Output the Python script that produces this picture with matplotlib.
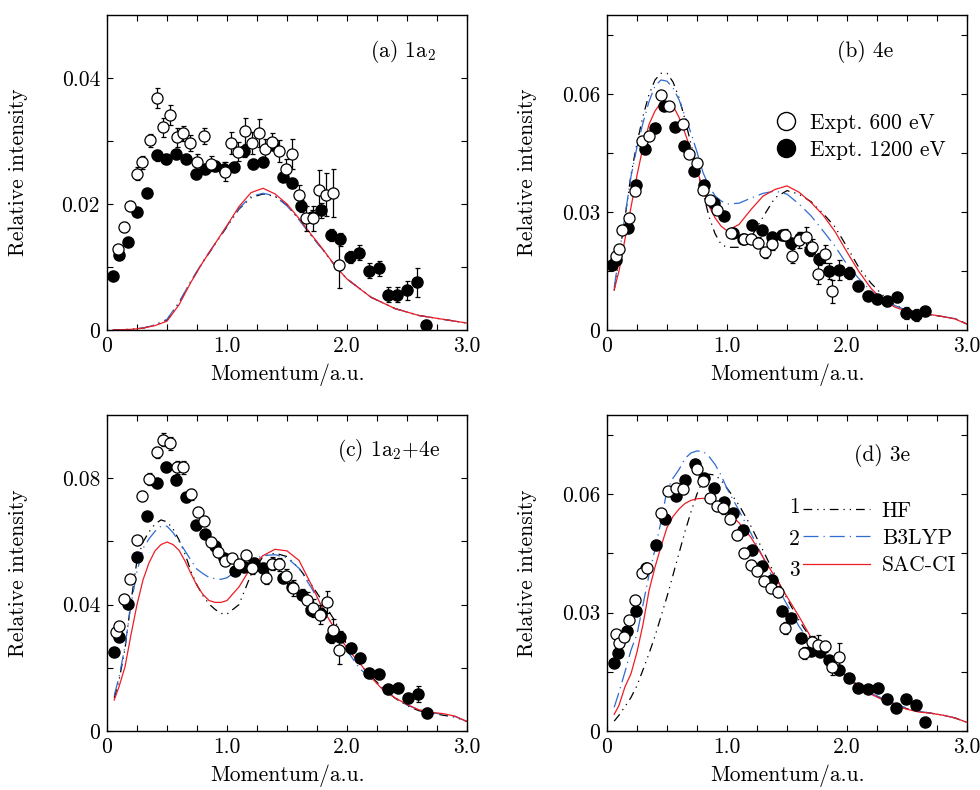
import numpy as np
import matplotlib
matplotlib.use("Agg")
import matplotlib.pyplot as plt
from matplotlib.lines import Line2D

plt.rcParams['font.family'] = 'serif'
plt.rcParams['font.serif'] = ['cmr10', 'DejaVu Serif']
plt.rcParams['mathtext.fontset'] = 'cm'
plt.rcParams['axes.unicode_minus'] = False

# ---------------- data ----------------
# Panel (a) 1a2
a_open_x = [0.092,0.142,0.194,0.247,0.294,0.356,0.417,0.467,0.525,0.581,0.636,0.694,0.753,0.808,0.867,0.983,1.036,1.094,1.15,1.206,1.264,1.319,1.375,1.433,1.492,1.544,1.603,1.661,1.717,1.764,1.825,1.883,1.936]
a_open_y = [0.0129,0.0164,0.0197,0.0248,0.0266,0.0301,0.0368,0.0322,0.0341,0.0306,0.0312,0.0297,0.0267,0.0308,0.0264,0.0251,0.0297,0.0283,0.0316,0.0297,0.0313,0.0287,0.0299,0.0284,0.0256,0.0279,0.0215,0.0177,0.0177,0.0223,0.0215,0.0218,0.0103]
a_open_e = [0.0006,0.0008,0.0008,0.0010,0.0010,0.0010,0.0016,0.0015,0.0016,0.0015,0.0012,0.0013,0.0012,0.0013,0.0012,0.0015,0.0017,0.0015,0.0020,0.0018,0.0022,0.0016,0.0014,0.0018,0.0015,0.0024,0.0015,0.0020,0.0020,0.0031,0.0034,0.0038,0.0037]
a_fill_x = [0.05,0.1,0.178,0.253,0.331,0.414,0.492,0.578,0.656,0.739,0.814,0.897,0.975,1.061,1.139,1.219,1.303,1.383,1.464,1.542,1.619,1.706,1.781,1.864,1.939,2.028,2.103,2.181,2.264,2.339,2.419,2.503,2.583,2.661]
a_fill_y = [0.0086,0.0119,0.0140,0.0187,0.0217,0.0277,0.0271,0.0279,0.0271,0.0248,0.0256,0.0260,0.0256,0.0259,0.0284,0.0264,0.0266,0.0293,0.0243,0.0234,0.0197,0.0180,0.0190,0.0151,0.0144,0.0116,0.0123,0.0094,0.0098,0.0056,0.0056,0.0063,0.0076,0.0008]
a_fill_e = [0.0004,0.0005,0.0005,0.0006,0.0006,0.0008,0.0008,0.0008,0.0008,0.0008,0.0008,0.0008,0.0010,0.0008,0.0010,0.0008,0.0008,0.0008,0.0008,0.0008,0.0010,0.0010,0.0012,0.0010,0.0010,0.0010,0.0012,0.0012,0.0012,0.0012,0.0012,0.0015,0.0023,0.0008]
a_th_x = [0.05,0.2,0.3,0.4,0.5,0.6,0.7,0.8,0.9,1.0,1.1,1.2,1.3,1.4,1.5,1.6,1.7,1.8,1.9,2.0,2.2,2.4,2.6,2.8,3.0]
a_hf   = [0.0,0.0001,0.0003,0.0008,0.0016,0.0043,0.0077,0.0108,0.0136,0.0164,0.0192,0.0210,0.0216,0.0212,0.0198,0.0176,0.0151,0.0127,0.0102,0.0081,0.0052,0.0034,0.0023,0.0017,0.0011]
a_b3   = [0.0,0.0001,0.0003,0.0008,0.0017,0.0044,0.0078,0.0109,0.0137,0.0165,0.0193,0.0212,0.0217,0.0213,0.0197,0.0175,0.0150,0.0127,0.0102,0.0081,0.0052,0.0034,0.0023,0.0017,0.0011]
a_sac  = [0.0,0.0001,0.0003,0.0007,0.0014,0.0040,0.0076,0.0108,0.0137,0.0166,0.0196,0.0218,0.0225,0.0216,0.0200,0.0177,0.0152,0.0128,0.0102,0.0081,0.0052,0.0034,0.0023,0.0017,0.0011]

# common theory grid for panels (b)-(d)
th_x = [0.06,0.1,0.15,0.2,0.25,0.3,0.35,0.4,0.45,0.5,0.55,0.6,0.65,0.7,0.75,0.8,0.85,0.9,0.95,1.0,1.1,1.2,1.3,1.4,1.5,1.6,1.7,1.8,1.9,2.0,2.1,2.2,2.3,2.4,2.5,2.6,2.7,2.8,2.9,3.0]

# Panel (b) 4e
b_open_x = [0.072,0.097,0.128,0.181,0.237,0.289,0.348,0.448,0.518,0.63,0.685,0.746,0.804,0.857,0.913,1.03,1.138,1.197,1.258,1.316,1.372,1.483,1.539,1.603,1.656,1.706,1.762,1.82,1.879]
b_open_y = [0.0187,0.0205,0.0255,0.0284,0.0352,0.0480,0.0492,0.0598,0.0569,0.0522,0.0448,0.0423,0.0356,0.0331,0.0304,0.0246,0.0231,0.0231,0.0222,0.0197,0.0219,0.0242,0.0188,0.0229,0.0236,0.0212,0.0142,0.0193,0.0098]
b_open_e = [0.0005,0.0005,0.0006,0.0006,0.0007,0.0008,0.0008,0.0010,0.0010,0.0010,0.0010,0.0010,0.0010,0.0010,0.0010,0.0010,0.0012,0.0012,0.0013,0.0013,0.0015,0.0015,0.0018,0.0020,0.0025,0.0018,0.0025,0.0022,0.0030]
b_fill_x = [0.045,0.078,0.175,0.245,0.32,0.404,0.476,0.565,0.64,0.726,0.807,0.891,0.971,1.052,1.13,1.21,1.294,1.372,1.456,1.534,1.611,1.695,1.77,1.851,1.931,2.018,2.093,2.174,2.254,2.335,2.413,2.494,2.574,2.652]
b_fill_y = [0.0165,0.0178,0.0259,0.0369,0.0460,0.0513,0.0569,0.0516,0.0467,0.0403,0.0369,0.0322,0.0290,0.0246,0.0232,0.0267,0.0253,0.0236,0.0242,0.0221,0.0233,0.0202,0.0180,0.0149,0.0153,0.0144,0.0112,0.0087,0.0078,0.0074,0.0083,0.0044,0.0039,0.0047]
b_fill_e = [0.0005,0.0005,0.0006,0.0007,0.0008,0.0008,0.0010,0.0010,0.0008,0.0008,0.0008,0.0008,0.0008,0.0010,0.0010,0.0012,0.0012,0.0012,0.0013,0.0013,0.0015,0.0015,0.0015,0.0020,0.0025,0.0015,0.0012,0.0012,0.0012,0.0012,0.0012,0.0015,0.0015,0.0012]
b_hf  = [0.0100,0.0185,0.0285,0.0395,0.0475,0.0543,0.0598,0.0635,0.0652,0.0652,0.0630,0.0590,0.0535,0.0472,0.0410,0.0349,0.0288,0.0245,0.0218,0.0210,0.0210,0.0235,0.0287,0.0336,0.0354,0.0345,0.0326,0.0296,0.0262,0.0211,0.0158,0.0119,0.0088,0.0063,0.0051,0.0044,0.0039,0.0034,0.0029,0.0015]
b_b3  = [0.0108,0.0190,0.0290,0.0390,0.0465,0.0526,0.0580,0.0620,0.0635,0.0632,0.0615,0.0585,0.0543,0.0500,0.0452,0.0400,0.0365,0.0341,0.0328,0.0320,0.0322,0.0335,0.0347,0.0353,0.0345,0.0320,0.0290,0.0252,0.0213,0.0166,0.0130,0.0099,0.0076,0.0062,0.0050,0.0043,0.0038,0.0034,0.0029,0.0015]
b_sac = [0.0102,0.0150,0.0231,0.0312,0.0393,0.0465,0.0522,0.0556,0.0578,0.0580,0.0570,0.0540,0.0500,0.0456,0.0407,0.0356,0.0315,0.0285,0.0264,0.0252,0.0268,0.0306,0.0340,0.0357,0.0366,0.0350,0.0324,0.0292,0.0250,0.0198,0.0148,0.0106,0.0075,0.0058,0.0047,0.0042,0.0039,0.0034,0.0028,0.0015]

# Panel (c) 1a2+4e
c_open_x = [0.072,0.100,0.139,0.195,0.248,0.295,0.353,0.417,0.465,0.526,0.584,0.637,0.699,0.757,0.810,0.866,0.924,0.982,1.038,1.097,1.155,1.211,1.322,1.378,1.436,1.495,1.553,1.664,1.72,1.776,1.831,1.887,1.937]
c_open_y = [0.0312,0.0333,0.0417,0.0482,0.0603,0.0744,0.0797,0.0882,0.0922,0.0910,0.0834,0.0834,0.0749,0.0693,0.0664,0.0599,0.0567,0.0539,0.0546,0.0527,0.0558,0.0516,0.0484,0.0530,0.0527,0.0490,0.0452,0.0415,0.0389,0.0368,0.0408,0.0320,0.0256]
c_open_e = [0.0010,0.0010,0.0012,0.0012,0.0015,0.0015,0.0018,0.0018,0.0020,0.0020,0.0020,0.0020,0.0018,0.0015,0.0015,0.0015,0.0015,0.0015,0.0015,0.0015,0.0015,0.0018,0.0020,0.0020,0.0020,0.0022,0.0025,0.0025,0.0028,0.0030,0.0035,0.0035,0.0045]
c_fill_x = [0.056,0.100,0.178,0.253,0.331,0.414,0.495,0.579,0.657,0.740,0.815,0.896,0.977,1.063,1.141,1.225,1.302,1.383,1.467,1.545,1.623,1.703,1.781,1.865,1.94,2.032,2.11,2.185,2.266,2.343,2.424,2.505,2.588,2.666]
c_fill_y = [0.0251,0.0299,0.0402,0.0551,0.0680,0.0786,0.0837,0.0794,0.0739,0.0651,0.0624,0.0585,0.0546,0.0505,0.0518,0.0532,0.0516,0.0530,0.0484,0.0455,0.0431,0.0384,0.0370,0.0299,0.0299,0.0262,0.0232,0.0182,0.0179,0.0132,0.0137,0.0105,0.0118,0.0057]
c_fill_e = [0.0008,0.0008,0.0010,0.0010,0.0012,0.0012,0.0015,0.0015,0.0015,0.0015,0.0012,0.0012,0.0012,0.0012,0.0012,0.0015,0.0015,0.0015,0.0015,0.0015,0.0018,0.0020,0.0020,0.0020,0.0018,0.0015,0.0015,0.0015,0.0015,0.0015,0.0015,0.0015,0.0025,0.0015]
c_hf  = [0.0105,0.0160,0.0260,0.0410,0.0540,0.0598,0.0630,0.0655,0.0668,0.0662,0.0640,0.0605,0.0560,0.0505,0.0462,0.0428,0.0402,0.0385,0.0372,0.0370,0.0400,0.0495,0.0552,0.0563,0.0552,0.0515,0.0465,0.0408,0.0348,0.0272,0.0214,0.0173,0.0136,0.0104,0.0080,0.0064,0.0057,0.0050,0.0044,0.0030]
c_b3  = [0.0112,0.0170,0.0268,0.0400,0.0505,0.0578,0.0608,0.0632,0.0648,0.0648,0.0628,0.0600,0.0570,0.0540,0.0512,0.0498,0.0486,0.0482,0.0480,0.0485,0.0512,0.0540,0.0555,0.0558,0.0548,0.0515,0.0455,0.0388,0.0322,0.0255,0.0200,0.0165,0.0134,0.0106,0.0082,0.0067,0.0058,0.0053,0.0046,0.0030]
c_sac = [0.0098,0.0140,0.0203,0.0305,0.0400,0.0478,0.0532,0.0570,0.0590,0.0598,0.0590,0.0572,0.0538,0.0498,0.0460,0.0432,0.0413,0.0407,0.0407,0.0413,0.0456,0.0518,0.0555,0.0575,0.0570,0.0540,0.0465,0.0385,0.0322,0.0262,0.0217,0.0170,0.0130,0.0105,0.0084,0.0067,0.0059,0.0055,0.0047,0.0030]

# Panel (d) 3e
d_open_x = [0.072,0.097,0.142,0.184,0.237,0.29,0.334,0.448,0.509,0.573,0.635,0.746,0.802,0.857,0.913,0.969,1.024,1.083,1.141,1.197,1.252,1.308,1.364,1.428,1.483,1.642,1.706,1.762,1.82,1.873,1.931]
d_open_y = [0.0245,0.0222,0.0239,0.0281,0.0332,0.0400,0.0413,0.0553,0.0608,0.0614,0.0612,0.0663,0.0633,0.0591,0.0569,0.0565,0.0536,0.0495,0.0451,0.0421,0.0404,0.0381,0.0362,0.0353,0.0260,0.0197,0.0226,0.0218,0.0214,0.0163,0.0188]
d_open_e = [0.0008,0.0008,0.0008,0.0008,0.0008,0.0008,0.0008,0.0010,0.0010,0.0010,0.0012,0.0012,0.0012,0.0012,0.0012,0.0015,0.0012,0.0012,0.0012,0.0012,0.0012,0.0012,0.0012,0.0015,0.0015,0.0015,0.0015,0.0025,0.0015,0.0020,0.0035]
d_fill_x = [0.056,0.092,0.167,0.245,0.328,0.406,0.487,0.571,0.648,0.735,0.81,0.893,0.974,1.052,1.13,1.211,1.294,1.372,1.456,1.534,1.614,1.698,1.773,1.853,1.934,2.015,2.093,2.174,2.257,2.332,2.41,2.491,2.574,2.652]
d_fill_y = [0.0171,0.0198,0.0252,0.0303,0.0413,0.0472,0.0536,0.0595,0.0635,0.0675,0.0640,0.0614,0.0581,0.0553,0.0510,0.0457,0.0417,0.0383,0.0303,0.0287,0.0235,0.0203,0.0201,0.0180,0.0154,0.0135,0.0108,0.0106,0.0109,0.0082,0.0058,0.0082,0.0065,0.0023]
d_fill_e = [0.0006,0.0006,0.0006,0.0008,0.0008,0.0008,0.0008,0.0010,0.0010,0.0010,0.0010,0.0010,0.0010,0.0010,0.0010,0.0010,0.0010,0.0010,0.0010,0.0010,0.0010,0.0010,0.0010,0.0010,0.0010,0.0008,0.0008,0.0008,0.0008,0.0008,0.0008,0.0010,0.0010,0.0008]
d_hf  = [0.0025,0.0040,0.0062,0.0085,0.0115,0.0155,0.0196,0.0240,0.0290,0.0340,0.0395,0.0450,0.0505,0.0555,0.0600,0.0635,0.0650,0.0648,0.0635,0.0615,0.0572,0.0518,0.0457,0.0395,0.0335,0.0280,0.0234,0.0195,0.0164,0.0137,0.0114,0.0095,0.0079,0.0065,0.0056,0.0050,0.0045,0.0040,0.0033,0.0022]
d_b3  = [0.0060,0.0098,0.0150,0.0205,0.0245,0.0320,0.0395,0.0460,0.0530,0.0610,0.0640,0.0662,0.0690,0.0704,0.0709,0.0708,0.0695,0.0675,0.0648,0.0614,0.0558,0.0500,0.0440,0.0375,0.0320,0.0265,0.0222,0.0185,0.0156,0.0133,0.0112,0.0096,0.0082,0.0069,0.0058,0.0050,0.0045,0.0040,0.0033,0.0022]
d_sac = [0.0042,0.0065,0.0112,0.0145,0.0200,0.0270,0.0355,0.0415,0.0467,0.0515,0.0543,0.0562,0.0576,0.0584,0.0588,0.0589,0.0585,0.0578,0.0568,0.0556,0.0527,0.0490,0.0440,0.0390,0.0340,0.0290,0.0237,0.0195,0.0162,0.0137,0.0112,0.0093,0.0079,0.0066,0.0055,0.0048,0.0045,0.0040,0.0033,0.0022]

panel_titles = ["(a) 1a$_2$", "(b) 4e", "(c) 1a$_2$+4e", "(d) 3e"]
x_ticklabels = ["0", "1.0", "2.0", "3.0"]
legend_expt = ["Expt. 600 eV", "Expt. 1200 eV"]
legend_theory = ["HF", "B3LYP", "SAC-CI"]

# ---------------- styles ----------------
FS = 15.5
HF_STYLE = dict(color='black', lw=0.9, ls=(0, (7, 4, 1, 4, 1, 4)))
B3_STYLE = dict(color='#2f6bd0', lw=0.9, ls=(0, (12, 4, 1, 4)))
SAC_STYLE = dict(color='#ee1c25', lw=0.9, ls='-')

fig = plt.figure(figsize=(9.8, 7.9), dpi=100)
W, H = 980.0, 790.0
boxes = {
    'a': (107, 15, 467, 330),
    'b': (607, 15, 967, 330),
    'c': (107, 415, 467, 731),
    'd': (607, 415, 967, 731),
}
def make_ax(key):
    l, t, r, b = boxes[key]
    return fig.add_axes([l / W, 1 - b / H, (r - l) / W, (b - t) / H])

panels = {
    'a': dict(ox=a_open_x, oy=a_open_y, oe=a_open_e, fx=a_fill_x, fy=a_fill_y, fe=a_fill_e,
              tx=a_th_x, hf=a_hf, b3=a_b3, sac=a_sac, ymax=0.05,
              yticks=[0, 0.01, 0.02, 0.03, 0.04], ylabels=["0", "", "0.02", "", "0.04"],
              title=panel_titles[0], tpos=(0.73, 0.885), ylc=-0.22),
    'b': dict(ox=b_open_x, oy=b_open_y, oe=b_open_e, fx=b_fill_x, fy=b_fill_y, fe=b_fill_e,
              tx=th_x, hf=b_hf, b3=b_b3, sac=b_sac, ymax=0.08,
              yticks=[0, 0.015, 0.03, 0.045, 0.06, 0.075], ylabels=["0", "", "0.03", "", "0.06", ""],
              title=panel_titles[1], tpos=(0.64, 0.885), ylc=-0.195),
    'c': dict(ox=c_open_x, oy=c_open_y, oe=c_open_e, fx=c_fill_x, fy=c_fill_y, fe=c_fill_e,
              tx=th_x, hf=c_hf, b3=c_b3, sac=c_sac, ymax=0.10,
              yticks=[0, 0.02, 0.04, 0.06, 0.08], ylabels=["0", "", "0.04", "", "0.08"],
              title=panel_titles[2], tpos=(0.64, 0.887), ylc=-0.22),
    'd': dict(ox=d_open_x, oy=d_open_y, oe=d_open_e, fx=d_fill_x, fy=d_fill_y, fe=d_fill_e,
              tx=th_x, hf=d_hf, b3=d_b3, sac=d_sac, ymax=0.08,
              yticks=[0, 0.015, 0.03, 0.045, 0.06, 0.075], ylabels=["0", "", "0.03", "", "0.06", ""],
              title=panel_titles[3], tpos=(0.687, 0.872), ylc=-0.195),
}

axes = {}
for key, p in panels.items():
    ax = make_ax(key)
    axes[key] = ax
    ax.plot(p['tx'], p['hf'], zorder=2, **HF_STYLE)
    ax.plot(p['tx'], p['b3'], zorder=2, **B3_STYLE)
    ax.plot(p['tx'], p['sac'], zorder=2, **SAC_STYLE)
    ax.errorbar(p['fx'], p['fy'], yerr=p['fe'], fmt='o', ms=8, mfc='black', mec='black',
                ecolor='black', elinewidth=0.9, capsize=1.8, capthick=0.9, zorder=3)
    ax.errorbar(p['ox'], p['oy'], yerr=p['oe'], fmt='o', ms=8, mfc='white', mec='black', mew=0.9,
                ecolor='black', elinewidth=0.9, capsize=1.8, capthick=0.9, zorder=4)
    ax.set_xlim(0, 3.0)
    ax.set_ylim(0, p['ymax'])
    xt = np.arange(0, 3.01, 0.25)
    ax.set_xticks(xt)
    ax.set_xticklabels([x_ticklabels[int(v)] if abs(v - round(v)) < 1e-9 else "" for v in xt])
    ax.set_yticks(p['yticks'])
    ax.set_yticklabels(p['ylabels'])
    ax.tick_params(direction='in', top=True, right=True, length=4, width=0.8,
                   labelsize=FS, pad=5, colors='black')
    for s in ax.spines.values():
        s.set_linewidth(1.0)
    ax.set_xlabel("Momentum/a.u.", fontsize=FS, labelpad=5)
    ax.set_ylabel("Relative intensity", fontsize=FS)
    ax.yaxis.set_label_coords(p['ylc'], 0.5)
    ax.text(p['tpos'][0], p['tpos'][1], p['title'], transform=ax.transAxes, fontsize=FS,
            ha='left', va='center')

# legend in (b)
h_open = Line2D([], [], ls='none', marker='o', ms=13, mfc='white', mec='black', mew=1.0)
h_fill = Line2D([], [], ls='none', marker='o', ms=13, mfc='black', mec='black')
axes['b'].legend([h_open, h_fill], legend_expt, loc='center left', bbox_to_anchor=(0.465, 0.615),
                 frameon=False, fontsize=FS, handlelength=1.1, handletextpad=0.55, labelspacing=0.35,
                 borderpad=0, borderaxespad=0)

# legend in (d)
h_hf = Line2D([], [], **HF_STYLE)
h_b3 = Line2D([], [], **B3_STYLE)
h_sac = Line2D([], [], **SAC_STYLE)
axd = axes['d']
axd.legend([h_hf, h_b3, h_sac], legend_theory, loc='center left', bbox_to_anchor=(0.545, 0.61),
           frameon=False, fontsize=FS, handlelength=3.1, handletextpad=0.55, labelspacing=0.35,
           borderpad=0, borderaxespad=0)
for i, yy in enumerate([0.708, 0.608, 0.508]):
    axd.text(0.505, yy, str(i + 1), transform=axd.transAxes, fontsize=FS, ha='left', va='center')

fig.savefig("out.png", dpi=100)
